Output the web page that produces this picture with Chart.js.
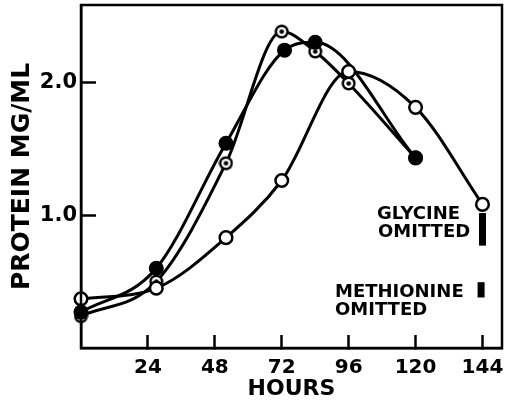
<!DOCTYPE html>
<html>
<head>
<meta charset="utf-8">
<script src="https://cdn.jsdelivr.net/npm/chart.js@4/dist/chart.umd.min.js"></script>
<style>
  html, body { margin: 0; padding: 0; background: #fff; }
  #wrap { width: 506px; height: 403px; }
</style>
</head>
<body>
<div id="wrap"><canvas id="c" width="506" height="403"></canvas></div>
<script>
// Protein concentration (mg/ml) against culture time (hours)
const openHours   = [0, 27, 52, 72, 96, 120, 144];
const openValues  = [0.37, 0.45, 0.83, 1.26, 2.08, 1.81, 1.08];

const filledHours  = [0, 27, 52, 73, 84, 120];
const filledValues = [0.27, 0.60, 1.54, 2.24, 2.30, 1.43];

const dottedHours  = [0, 27, 52, 72, 84, 96, 120];
const dottedValues = [0.24, 0.50, 1.39, 2.38, 2.23, 1.99, 1.43];

// Ranges at 144 h for the omitted amino acids
const glycineRange    = [0.77, 1.015];
const methionineRange = [0.38, 0.495];
const glycineHour = 144;
const methionineHour = 143.5;

const xTickValues = [24, 48, 72, 96, 120, 144];
const xTickLabels = ['24', '48', '72', '96', '120', '144'];
const yTickValues = [1, 2];
const yTickLabels = ['1.0', '2.0'];

const INK = '#000';
const FONT = "'DejaVu Sans', sans-serif";

function pairs(xs, ys) { return xs.map((x, i) => ({ x: x, y: ys[i] })); }

// circle with a dot in the centre
function bullseye() {
  const s = 15, c = document.createElement('canvas');
  c.width = s; c.height = s;
  const g = c.getContext('2d');
  g.fillStyle = INK; g.beginPath(); g.arc(7.5, 7.5, 7, 0, Math.PI * 2); g.fill();
  g.fillStyle = '#fff'; g.beginPath(); g.arc(7.5, 7.5, 4.6, 0, Math.PI * 2); g.fill();
  g.fillStyle = INK; g.beginPath(); g.arc(7.5, 7.5, 2.3, 0, Math.PI * 2); g.fill();
  return c;
}

const frame = {
  id: 'frame',
  afterDraw(chart) {
    const { ctx, chartArea: a } = chart;
    ctx.save();
    ctx.strokeStyle = INK;
    ctx.lineWidth = 2.5;
    ctx.strokeRect(a.left, a.top, a.right - a.left, a.bottom - a.top);
    ctx.restore();
  }
};

const notes = {
  id: 'notes',
  afterDatasetsDraw(chart) {
    const { ctx } = chart;
    ctx.save();
    ctx.fillStyle = INK;
    ctx.font = "bold 18px " + FONT;
    ctx.textBaseline = 'alphabetic';
    ctx.textAlign = 'left';
    ctx.fillText('GLYCINE', 377, 219);
    ctx.fillText('OMITTED', 378, 237);
    ctx.fillText('METHIONINE', 335, 297);
    ctx.fillText('OMITTED', 335, 315);
    ctx.restore();
  }
};

function noEdgePadding(s) {
  s.paddingLeft = 0; s.paddingRight = 0; s.paddingTop = 0; s.paddingBottom = 0;
}

const lineCommon = {
  borderColor: INK,
  borderWidth: 3,
  cubicInterpolationMode: 'monotone',
  pointRadius: 6.3,
  pointBorderWidth: 2.5,
  pointBorderColor: INK,
  clip: false,
  fill: false
};

new Chart(document.getElementById('c'), {
  type: 'line',
  data: {
    datasets: [
      Object.assign({}, lineCommon, {
        label: 'open',
        data: pairs(openHours, openValues),
        pointBackgroundColor: '#fff'
      }),
      Object.assign({}, lineCommon, {
        label: 'filled',
        data: pairs(filledHours, filledValues),
        pointBackgroundColor: INK
      }),
      Object.assign({}, lineCommon, {
        label: 'dotted',
        data: pairs(dottedHours, dottedValues),
        pointStyle: bullseye()
      }),
      {
        label: 'glycine omitted',
        data: [{ x: glycineHour, y: glycineRange[0] }, { x: glycineHour, y: glycineRange[1] }],
        borderColor: INK, borderWidth: 7, borderCapStyle: 'butt',
        pointRadius: 0, clip: false
      },
      {
        label: 'methionine omitted',
        data: [{ x: methionineHour, y: methionineRange[0] }, { x: methionineHour, y: methionineRange[1] }],
        borderColor: INK, borderWidth: 7, borderCapStyle: 'butt',
        pointRadius: 0, clip: false
      }
    ]
  },
  options: {
    responsive: false,
    animation: false,
    events: [],
    layout: { autoPadding: false, padding: { left: 0, right: 4, top: 5, bottom: 0 } },
    plugins: { legend: { display: false }, tooltip: { enabled: false } },
    scales: {
      x: {
        type: 'linear',
        min: 0, max: 151,
        afterFit(s) { s.height = 55; noEdgePadding(s); },
        afterBuildTicks(s) { s.ticks = xTickValues.map(v => ({ value: v })); },
        border: { display: true, color: INK, width: 2.5 },
        grid: { drawOnChartArea: false, drawTicks: true, tickLength: -13, tickWidth: 2.5, tickColor: INK },
        ticks: {
          color: INK, padding: 21, maxRotation: 0, autoSkip: false,
          font: { family: FONT, size: 20, weight: 'bold' },
          callback: (v) => xTickLabels[xTickValues.indexOf(v)]
        },
        title: {
          display: true, text: 'HOURS', color: INK,
          font: { family: FONT, size: 22, weight: 'bold' },
          padding: { top: 0, bottom: 1 }
        }
      },
      y: {
        type: 'linear',
        min: 0, max: 2.58,
        afterFit(s) { s.width = 81; noEdgePadding(s); },
        afterBuildTicks(s) { s.ticks = yTickValues.map(v => ({ value: v })); },
        border: { display: true, color: INK, width: 2.5 },
        grid: { drawOnChartArea: false, drawTicks: true, tickLength: -15, tickWidth: 2.5, tickColor: INK },
        ticks: {
          color: INK, padding: 19, autoSkip: false,
          font: { family: FONT, size: 21, weight: 'bold' },
          callback: (v) => yTickLabels[yTickValues.indexOf(v)]
        },
        title: {
          display: true, text: 'PROTEIN MG/ML', color: INK,
          font: { family: FONT, size: 25, weight: 'bold' },
          padding: { top: 7, bottom: 0 }
        }
      }
    }
  },
  plugins: [frame, notes]
});
</script>
</body>
</html>
